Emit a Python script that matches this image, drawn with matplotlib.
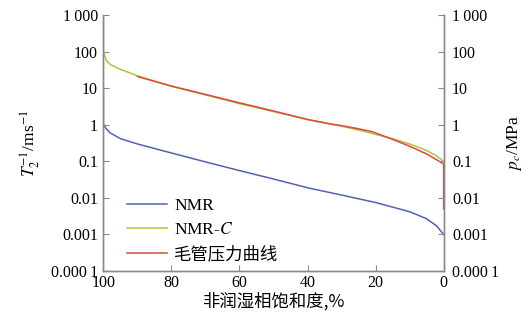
import matplotlib
matplotlib.use("Agg")
import matplotlib.pyplot as plt
from matplotlib.ticker import FixedLocator, FixedFormatter, NullLocator

plt.rcParams['font.family'] = ['Liberation Serif', 'Noto Sans CJK SC']
plt.rcParams['mathtext.fontset'] = 'stix'

# non-wetting phase saturation (%) and curve values
s_nmr = [100, 100, 99, 98, 95, 90, 80, 70, 60, 50, 40, 30, 20, 10, 5, 2, 0]
t2_nmr = [10, 1.0, 0.75, 0.6, 0.42, 0.3, 0.17, 0.097, 0.056, 0.033, 0.019,
          0.012, 0.0075, 0.0042, 0.0027, 0.0017, 0.001]

s_nmrc = [100, 100, 99, 98, 95, 92, 90, 80, 70, 60, 50, 40, 30, 25, 21, 15,
          10, 5, 2, 0]
t2_nmrc = [1000, 100, 55, 45, 33, 26, 22, 11.3, 6.6, 3.8, 2.3, 1.4, 0.92,
           0.72, 0.58, 0.42, 0.3, 0.2, 0.14, 0.1]

s_pc = [90, 80, 70, 60, 50, 40, 33, 30, 25, 21, 15, 10, 5, 2, 0, 0]
pc = [21, 11.5, 6.8, 4.0, 2.4, 1.4, 1.05, 0.95, 0.78, 0.65, 0.4, 0.26,
      0.16, 0.11, 0.085, 0.005]

y_ticks = [1e-4, 1e-3, 1e-2, 1e-1, 1, 10, 100, 1000]
y_labels = ['0.000\u20091', '0.001', '0.01', '0.1', '1', '10', '100', '1\u2009000']
x_ticks = [100, 80, 60, 40, 20, 0]

spine_col = '#8a8a8a'

fig = plt.figure(figsize=(5.31, 3.2), dpi=100)
ax = fig.add_axes([0.1947, 0.153, 0.6407, 0.7995])

ax.plot(s_nmr, t2_nmr, color='#5462b4', lw=1.1, label='NMR')
ax.plot(s_nmrc, t2_nmrc, color='#a9c83c', lw=1.1, label='NMR-$C$')
ax.plot(s_pc, pc, color='#e2453f', lw=1.1, label='毛管压力曲线')

ax.set_yscale('log')
ax.set_ylim(1e-4, 1000)
ax.set_xlim(100, 0)

ax2 = ax.twinx()
for a in (ax, ax2):
    a.set_yscale('log')
    a.set_ylim(1e-4, 1000)
    a.yaxis.set_major_locator(FixedLocator(y_ticks))
    a.yaxis.set_major_formatter(FixedFormatter(y_labels))
    a.yaxis.set_minor_locator(NullLocator())
    a.spines['top'].set_visible(False)
    for sp in ('left', 'right', 'bottom'):
        a.spines[sp].set_color(spine_col)
        a.spines[sp].set_linewidth(1.0)
    a.tick_params(direction='in', length=4, color=spine_col, labelsize=11.5)

ax.tick_params(axis='y', pad=4)
ax2.tick_params(axis='y', pad=6)
ax.set_xticks(x_ticks)
ax.set_xticklabels([str(v) for v in x_ticks])
ax.tick_params(axis='x', pad=3)

ax.set_xlabel('非润湿相饱和度,%', family=['Noto Sans CJK SC'], fontsize=12.5,
              labelpad=1)
ax.set_ylabel('$T_2^{-1}$/ms$^{-1}$', fontsize=12.5, labelpad=6)
ax2.set_ylabel('$p_c$/MPa', fontsize=12.5, rotation=90, labelpad=4)

leg = ax.legend(loc='upper left', bbox_to_anchor=(0.07, 0.285), frameon=False,
                fontsize=12.5, handlelength=2.3, handletextpad=0.4,
                labelspacing=0.45, borderaxespad=0, borderpad=0)

fig.savefig('out.png', dpi=100)
